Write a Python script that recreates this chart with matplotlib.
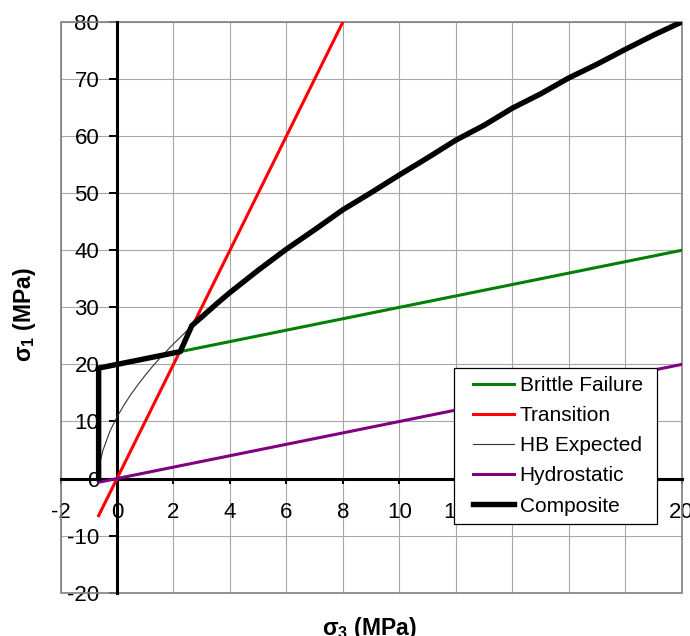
import matplotlib
matplotlib.use("Agg")
import matplotlib.pyplot as plt
from matplotlib.patches import Rectangle
from matplotlib.lines import Line2D
from matplotlib.legend_handler import HandlerLine2D

plt.rcParams["font.family"] = ["Liberation Sans", "DejaVu Sans"]
plt.rcParams["mathtext.fontset"] = "custom"
plt.rcParams["mathtext.rm"] = "Liberation Sans"
plt.rcParams["mathtext.it"] = "Liberation Sans:italic"
plt.rcParams["mathtext.bf"] = "Liberation Sans:bold"

# Brittle failure envelope (sigma3, sigma1 in MPa)
brittle_s3 = [-0.65, 0, 2, 4, 6, 8, 10, 12, 14, 16, 18, 20]
brittle_s1 = [19.35, 20, 22, 24, 26, 28, 30, 32, 34, 36, 38, 40]

# Brittle-ductile transition line
transition_s3 = [-0.65, 0, 2, 4, 6, 8]
transition_s1 = [-6.5, 0, 20, 40, 60, 80]

# Expected Hoek-Brown envelope
hb_s3 = [-0.66, -0.6, -0.5, -0.25, 0, 0.25, 0.5, 0.75, 1, 1.25, 1.5, 1.75, 2,
         2.5, 3, 3.5, 4, 5, 6, 7, 8, 9, 10, 11, 12, 13, 14, 15, 16, 17, 18,
         19, 20]
hb_s1 = [0.0, 2.9, 4.9, 8.3, 10.8, 12.9, 14.8, 16.5, 18.1, 19.6, 21.0, 22.3,
         23.6, 26.0, 28.3, 30.5, 32.6, 36.5, 40.2, 43.6, 47.1, 50.1, 53.2,
         56.2, 59.3, 61.9, 64.9, 67.4, 70.2, 72.6, 75.2, 77.7, 80.0]

# Hydrostatic line
hydro_s3 = [-0.65, 0, 5, 10, 15, 20]
hydro_s1 = [-0.65, 0, 5, 10, 15, 20]

# Composite envelope
comp_s3 = [-0.65, -0.65, 0, 1, 2, 2.24, 2.65, 3, 3.5, 4, 5, 6, 7, 8, 9, 10,
           11, 12, 13, 14, 15, 16, 17, 18, 19, 20]
comp_s1 = [0.0, 19.35, 20, 21, 22, 22.24, 26.8, 28.3, 30.5, 32.6, 36.5, 40.2,
           43.6, 47.1, 50.1, 53.2, 56.2, 59.3, 61.9, 64.9, 67.4, 70.2, 72.6,
           75.2, 77.7, 80.0]

x_ticks = [-2, 0, 2, 4, 6, 8, 10, 12, 14, 16, 18, 20]
# labels for 14-18 sit behind the legend box
x_tick_labels = ["-2", "0", "2", "4", "6", "8", "10", "12", "", "", "", "20"]
y_ticks = [-20, -10, 0, 10, 20, 30, 40, 50, 60, 70, 80]
y_tick_labels = ["-20", "-10", "0", "10", "20", "30", "40", "50", "60", "70",
                 "80"]

fig = plt.figure(figsize=(6.9, 6.36), dpi=100)
ax = fig.add_axes([0.0877, 0.0681, 0.9003, 0.8973])
ax.set_xlim(-2, 20)
ax.set_ylim(-20, 80)

ax.plot(brittle_s3, brittle_s1, color="#008000", lw=2.2, zorder=3,
        label="Brittle Failure ", solid_joinstyle="round")
ax.plot(transition_s3, transition_s1, color="#ff0000", lw=2.2, zorder=3,
        label="Transition")
ax.plot(hb_s3, hb_s1, color="#333333", lw=0.8, zorder=3, label="HB Expected")
ax.plot(hydro_s3, hydro_s1, color="#800080", lw=2.2, zorder=3,
        label="Hydrostatic")
ax.plot(comp_s3, comp_s1, color="black", lw=3.9, zorder=4, label="Composite",
        solid_joinstyle="round")

# axes crossing at the origin
for side in ("top", "right"):
    ax.spines[side].set_visible(False)
ax.spines["left"].set_position(("data", 0))
ax.spines["bottom"].set_position(("data", 0))
for side in ("left", "bottom"):
    ax.spines[side].set_linewidth(2.2)
    ax.spines[side].set_color("black")
    ax.spines[side].set_zorder(2.5)

ax.add_patch(Rectangle((0, 0), 1, 1, transform=ax.transAxes, fill=False,
                       edgecolor="#808080", lw=1.2, clip_on=False, zorder=1))

ax.set_xticks(x_ticks)
ax.set_yticks(y_ticks)
ax.set_xticklabels(x_tick_labels)
ax.set_yticklabels(y_tick_labels)
ax.tick_params(axis="x", direction="out", length=3.6, width=1.4, pad=13.5,
               labelsize=16, colors="black")
ax.tick_params(axis="y", direction="out", length=5.8, width=1.4, pad=7,
               labelsize=16, colors="black")
ax.grid(True, color="#a8a8a8", lw=0.8, zorder=0)
ax.set_axisbelow(True)

fig.text(24 / 690, 1 - 315 / 636, r"$\mathbf{\sigma_1}$ (MPa)", rotation=90,
         ha="center", va="center", fontsize=16.5, fontweight="bold")
fig.text(369 / 690, 0.001, r"$\mathbf{\sigma_3}$ (MPa)", ha="center",
         va="baseline", fontsize=16.5, fontweight="bold")

leg = ax.legend(loc="upper left", bbox_to_anchor=(454 / 690, 1 - 368 / 636),
                bbox_transform=fig.transFigure, borderaxespad=0,
                fontsize=15, frameon=True, fancybox=False, framealpha=1,
                borderpad=0.4, labelspacing=0.53, handlelength=2.5,
                handletextpad=0.25,
                handler_map={Line2D: HandlerLine2D(xpad=0.5)})
leg.get_frame().set_edgecolor("black")
leg.get_frame().set_linewidth(0.9)
leg.set_zorder(10)

fig.savefig("out.png", dpi=100)
